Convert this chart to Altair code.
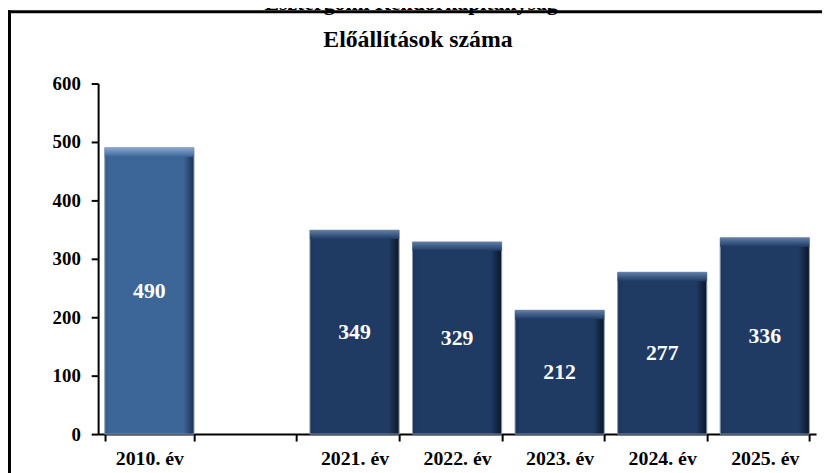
import altair as alt
import pandas as pd

# ---- data ----
categories = ["2010. év", " ", "2021. év", "2022. év", "2023. év", "2024. év", "2025. év"]
years = ["2010. év", "2021. év", "2022. év", "2023. év", "2024. év", "2025. év"]
values = [490, 349, 329, 212, 277, 336]
y_ticks = [0, 100, 200, 300, 400, 500, 600]
outer_title = "Esztergomi Rendőrkapitányság"
inner_title = "Előállítások száma"

df = pd.DataFrame({"year": years, "value": values})

FONT = "Liberation Serif"

x_enc = alt.X(
    "year:N",
    title=None,
    scale=alt.Scale(domain=categories, paddingInner=0.13, paddingOuter=0.065),
    axis=alt.Axis(
        labelAngle=0, tickBand="extent", tickSize=7, tickWidth=2, tickColor="black",
        domainColor="black", domainWidth=2, labelPadding=8,
        labelFont=FONT, labelFontSize=20, labelFontWeight="bold", labelColor="black",
        grid=False,
    ),
)

y_axis = alt.Axis(
    values=y_ticks, tickSize=7, tickWidth=2, tickColor="black",
    domainColor="black", domainWidth=2, labelPadding=11,
    labelFont=FONT, labelFontSize=19, labelFontWeight="bold", labelColor="black",
    grid=False,
)
y_scale = alt.Scale(domain=[0, 600], nice=False)


def y_of(field):
    return alt.Y(field, title=None, scale=y_scale, axis=y_axis)


def hgrad(base, dark, edge):
    return alt.Gradient(
        gradient="linear", x1=0, x2=1, y1=0, y2=0,
        stops=[
            alt.GradientStop(color=edge, offset=0),
            alt.GradientStop(color=base, offset=0.06),
            alt.GradientStop(color=base, offset=0.88),
            alt.GradientStop(color=dark, offset=1),
        ],
    )


def vgrad(light, base):
    return alt.Gradient(
        gradient="linear", x1=0, x2=0, y1=0, y2=1,
        stops=[
            alt.GradientStop(color=light, offset=0),
            alt.GradientStop(color=base, offset=1),
        ],
    )


old_sel = "datum.year == '2010. év'"
new_sel = "datum.year != '2010. év'"

bars_old = alt.Chart(df).transform_filter(old_sel).mark_bar(
    fill=hgrad("#3d6698", "#1a3152", "#35598a"), stroke="#8e9db3", strokeWidth=1
).encode(x=x_enc, y=y_of("value:Q"))

bars_new = alt.Chart(df).transform_filter(new_sel).mark_bar(
    fill=hgrad("#1f3a63", "#0a1628", "#1b3458"), stroke="#8e9db3", strokeWidth=1
).encode(x=x_enc, y=y_of("value:Q"))

bevel_old = alt.Chart(df).transform_filter(old_sel).mark_bar(
    fill=vgrad("#86a6d0", "#3d6698"), y2Offset=9
).encode(x=x_enc, y=y_of("value:Q"), y2=alt.Y2("value:Q"))

bevel_new = alt.Chart(df).transform_filter(new_sel).mark_bar(
    fill=vgrad("#5f7ea8", "#1f3a63"), y2Offset=9
).encode(x=x_enc, y=y_of("value:Q"), y2=alt.Y2("value:Q"))

labels = alt.Chart(df).transform_calculate(mid="datum.value / 2").mark_text(
    font=FONT, fontSize=22, fontWeight="bold", color="white", baseline="middle", align="center"
).encode(x=x_enc, y=y_of("mid:Q"), text=alt.Text("value:Q"))

one = pd.DataFrame({"k": [0]})

frame_left = alt.Chart(one).mark_rule(color="black", strokeWidth=4).encode(
    x=alt.value(-90), y=alt.value(-74), y2=alt.value(470)
)
frame_top = alt.Chart(one).mark_rule(color="black", strokeWidth=3).encode(
    x=alt.value(-92), x2=alt.value(740), y=alt.value(-72.5)
)

title_outer = alt.Chart(pd.DataFrame({"t": [outer_title]})).mark_text(
    font=FONT, fontSize=22, fontWeight="bold", color="black", align="center", baseline="alphabetic"
).encode(x=alt.value(316), y=alt.value(-74.5), text="t:N")

title_inner = alt.Chart(pd.DataFrame({"t": [inner_title]})).mark_text(
    font=FONT, fontSize=24, fontWeight="bold", color="black", align="center", baseline="alphabetic"
).encode(x=alt.value(323), y=alt.value(-37), text="t:N")

chart = alt.layer(
    bars_old, bars_new, bevel_old, bevel_new, labels,
    frame_left, frame_top, title_outer, title_inner,
).properties(
    width=725, height=354,
    autosize=alt.AutoSizeParams(type="none"),
    padding={"left": 91, "top": 74, "right": 6, "bottom": 37},
    background="white",
).configure_view(stroke=None)

chart.save("out.html", embed_options={"renderer": "svg", "actions": False})
